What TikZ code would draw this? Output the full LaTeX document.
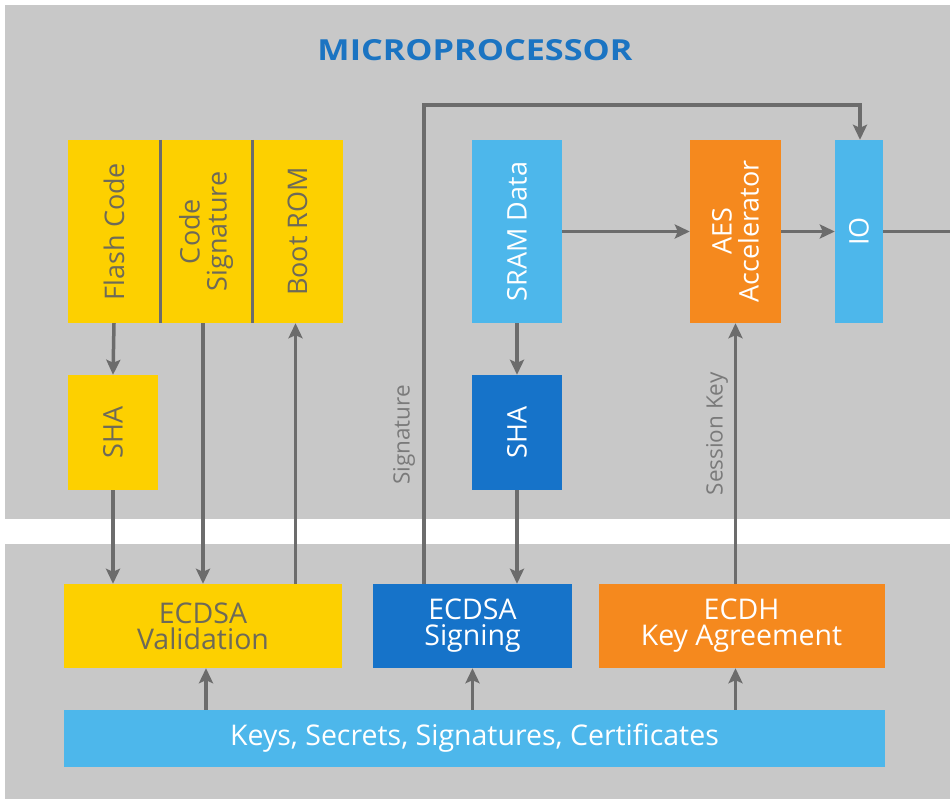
\documentclass[tikz,border=0pt]{standalone}
\usepackage{fontspec}
\setmainfont{Open Sans}
\usetikzlibrary{arrows.meta}
\definecolor{bg}{HTML}{C8C8C8}
\definecolor{ylw}{HTML}{FDD000}
\definecolor{org}{HTML}{F5891E}
\definecolor{lblue}{HTML}{4DB7EB}
\definecolor{dblue}{HTML}{1673C9}
\definecolor{agray}{HTML}{6C6C6C}
\definecolor{ytext}{HTML}{6E6A58}
\definecolor{tblue}{HTML}{1B74C2}
\definecolor{lblgray}{HTML}{7A7A7A}
\tikzset{
  blk/.style={draw=none, inner sep=0pt, align=center},
  vtext/.style={rotate=90, font=\fontsize{27}{27}\selectfont},
  htext/.style={font=\fontsize{28.5}{26}\selectfont},
  arr/.style={draw=agray, line width=3.5pt, -{Stealth[length=15pt,width=14pt,inset=3pt]}},
  ln/.style={draw=agray, line width=3.5pt},
  lbl/.style={rotate=90, text=lblgray, font=\fontsize{22.5}{24}\selectfont}
}
\begin{document}
\begin{tikzpicture}[x=1pt,y=-1pt]
\useasboundingbox (0,0) rectangle (950,799);
\fill[white] (0,0) rectangle (950,799);
\fill[bg] (5,5) rectangle (950,519);
\fill[bg] (5,544) rectangle (950,799);

\node[text=tblue, font=\fontsize{29}{30}\selectfont\bfseries] (title) at (475,50) {\scalebox{1.18}[1]{MICROPROCESSOR}};

% yellow stack
\node[blk, fill=ylw, minimum width=92pt, minimum height=183pt] (flash) at (114,231.5) {};
\node[blk, fill=ylw, minimum width=92pt, minimum height=183pt] (codesig) at (206,231.5) {};
\node[blk, fill=ylw, minimum width=91pt, minimum height=183pt] (boot) at (297.5,231.5) {};
\node[vtext, text=ytext] at (flash.center) {Flash Code};
\node[vtext, text=ytext, align=center] at (codesig.center) {Code\\Signature};
\node[vtext, text=ytext] at (boot.center) {Boot ROM};
\draw[ln, line width=3pt] (flash.north east) -- (flash.south east);
\draw[ln, line width=3pt] (codesig.north east) -- (codesig.south east);

\node[blk, fill=ylw, minimum width=90pt, minimum height=115pt] (shal) at (113,432.5) {};
\node[vtext, text=ytext] at (shal.center) {SHA};

% blue column
\node[blk, fill=lblue, minimum width=90pt, minimum height=183pt] (sram) at (517,231.5) {};
\node[vtext, text=white] at (sram.center) {SRAM Data};
\node[blk, fill=dblue, minimum width=90pt, minimum height=115pt] (shar) at (517,432.5) {};
\node[vtext, text=white] at (shar.center) {SHA};

\node[blk, fill=org, minimum width=91pt, minimum height=183pt] (aes) at (735.5,231.5) {};
\node[vtext, text=white, align=center] at (aes.center) {AES\\Accelerator};

\node[blk, fill=lblue, minimum width=48pt, minimum height=183pt] (io) at (859,231.5) {};
\node[vtext, text=white] at (io.center) {IO};

% bottom row
\node[blk, fill=ylw, minimum width=278pt, minimum height=84pt] (val) at (203,626) {};
\node[htext, text=ytext, align=center] at (val.center) {ECDSA\\Validation};
\node[blk, fill=dblue, minimum width=199pt, minimum height=84pt] (sign) at (472.5,626) {};
\node[htext, text=white, align=center] at (sign.center) {ECDSA\\Signing};
\node[blk, fill=org, minimum width=286pt, minimum height=84pt] (ecdh) at (741.5,626) {};
\node[htext, text=white, align=center] at (ecdh.center) {ECDH\\Key Agreement};

\node[blk, fill=lblue, minimum width=821pt, minimum height=57pt] (keys) at (474.5,738.5) {};
\node[htext, text=white] at (keys.center) {Keys, Secrets, Signatures, Certificates};

% connectors
\draw[arr] (flash.south) -- (shal.north);
\draw[arr] (shal.south) -- (shal.south |- val.north);
\draw[arr] ([xshift=-3pt]codesig.south) -- ([xshift=-3pt]codesig.south |- val.north);
\draw[arr] ([xshift=-2pt]boot.south |- val.north) -- ([xshift=-2pt]boot.south);

\draw[arr] (sram.south) -- (shar.north);
\draw[arr] (shar.south) -- (shar.south |- sign.north);
\draw[arr] (sram.east) -- (aes.west);
\draw[arr] (aes.east) -- (io.west);
\coordinate (redge) at (950,235);
\draw[ln] (io.east) -- (io.east -| redge);

\coordinate (c1) at (424,105);
\coordinate (c2) at (860,105);
\draw[arr] (sign.north -| c1) -- (c1) -- (c2) -- (c2 |- io.north);
\node[lbl] (siglbl) at (404,435) {Signature};

\draw[arr] (aes.south |- ecdh.north) -- (aes.south);
\node[lbl] (sklbl) at (717,434) {Session Key};

\draw[arr] (keys.north -| 206,0) -- (val.south -| 206,0);
\draw[arr] (keys.north -| sign.south) -- (sign.south);
\draw[arr] (keys.north -| aes.south) -- (aes.south |- ecdh.south);
\end{tikzpicture}
\end{document}
